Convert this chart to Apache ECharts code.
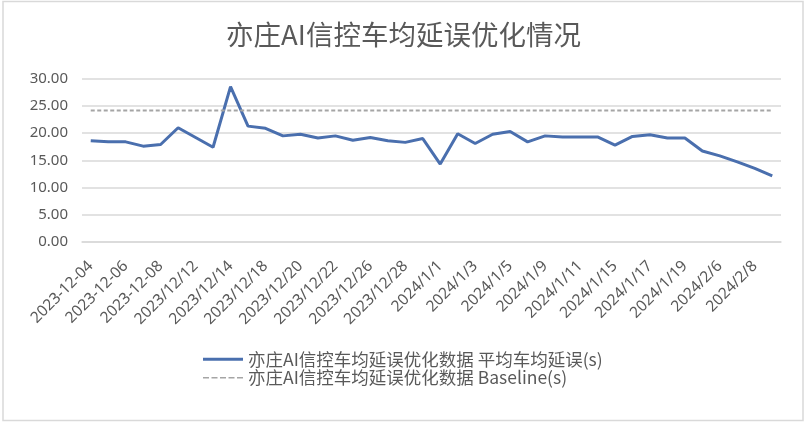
<!DOCTYPE html>
<html>
<head>
<meta charset="utf-8">
<script src="https://cdn.jsdelivr.net/npm/echarts@6/dist/echarts.min.js"></script>
<style>
html,body{margin:0;padding:0;background:#fff;}
#chart{width:807px;height:426px;}
</style>
</head>
<body>
<div id="chart"></div>
<script>
const titleText = '亦庄AI信控车均延误优化情况';
const seriesNames = ['亦庄AI信控车均延误优化数据 平均车均延误(s)', '亦庄AI信控车均延误优化数据 Baseline(s)'];
const categories = [
  '2023-12-04','2023-12-05','2023-12-06','2023-12-07','2023-12-08','2023/12/11','2023/12/12','2023/12/13',
  '2023/12/14','2023/12/15','2023/12/18','2023/12/19','2023/12/20','2023/12/21','2023/12/22','2023/12/25',
  '2023/12/26','2023/12/27','2023/12/28','2023/12/29','2024/1/1','2024/1/2','2024/1/3','2024/1/4',
  '2024/1/5','2024/1/8','2024/1/9','2024/1/10','2024/1/11','2024/1/12','2024/1/15','2024/1/16',
  '2024/1/17','2024/1/18','2024/1/19','2024/2/5','2024/2/6','2024/2/7','2024/2/8','2024/2/9'
];
const avgDelay = [
  18.6, 18.4, 18.4, 17.6, 17.9, 21.0, 19.2, 17.4,
  28.6, 21.3, 20.9, 19.5, 19.8, 19.1, 19.5, 18.7,
  19.2, 18.6, 18.3, 19.0, 14.3, 19.9, 18.1, 19.8,
  20.3, 18.4, 19.5, 19.3, 19.3, 19.3, 17.8, 19.4,
  19.7, 19.1, 19.1, 16.7, 15.8, 14.7, 13.5, 12.1
];
const baselineValue = 24.2;
const baseline = categories.map(() => baselineValue);

const chart = echarts.init(document.getElementById('chart'));
chart.setOption({
  backgroundColor: '#fff',
  animation: false,
  graphic: [{
    type: 'rect',
    shape: {x: 3, y: 1.5, width: 800, height: 419},
    style: {fill: 'none', stroke: '#d9d9d9', lineWidth: 1.5},
    silent: true
  }],
  title: {
    text: titleText,
    left: 'center',
    top: 16,
    textStyle: {fontFamily: 'Noto Sans CJK SC', fontSize: 27.5, fontWeight: 'normal', color: '#595959'}
  },
  legend: {
    orient: 'vertical',
    left: 203,
    top: 350.5,
    padding: 0,
    itemWidth: 40,
    itemHeight: 17,
    itemGap: 1,
    textStyle: {fontFamily: 'Noto Sans CJK SC', fontSize: 17.5, color: '#595959', lineHeight: 17},
    data: [
      {name: seriesNames[0], icon: 'path://M0,0 L40,0 L40,3 L0,3 Z', itemStyle: {color: '#4A6FAE'}},
      {name: seriesNames[1], icon: 'path://M0,0h6v1.6h-6z M8.5,0h6v1.6h-6z M17,0h6v1.6h-6z M25.5,0h6v1.6h-6z M34,0h6v1.6h-6z', itemStyle: {color: '#a5a5a5'}}
    ]
  },
  grid: {left: 82, right: 26, top: 79, bottom: 184.5, containLabel: false},
  xAxis: {
    type: 'category',
    data: categories,
    boundaryGap: true,
    axisLine: {show: true, lineStyle: {color: '#d9d9d9', width: 1.5}},
    axisTick: {show: false},
    axisLabel: {
      interval: 1,
      rotate: 45,
      margin: 22,
      fontFamily: 'Noto Sans',
      fontSize: 15.5,
      color: '#595959'
    }
  },
  yAxis: {
    type: 'value',
    min: 0,
    max: 30,
    interval: 5,
    axisLine: {show: false},
    axisTick: {show: false},
    splitLine: {lineStyle: {color: '#d9d9d9', width: 1.5}},
    axisLabel: {
      margin: 14,
      fontFamily: 'Noto Sans',
      fontSize: 15,
      color: '#595959',
      formatter: v => v.toFixed(2)
    }
  },
  series: [
    {
      name: seriesNames[0],
      type: 'line',
      data: avgDelay,
      symbol: 'none',
      lineStyle: {color: '#4A6FAE', width: 3},
      itemStyle: {color: '#4A6FAE'}
    },
    {
      name: seriesNames[1],
      type: 'line',
      data: baseline,
      symbol: 'none',
      lineStyle: {color: '#a5a5a5', width: 2, type: [4, 2.5]},
      itemStyle: {color: '#a5a5a5'}
    }
  ]
});
</script>
</body>
</html>
